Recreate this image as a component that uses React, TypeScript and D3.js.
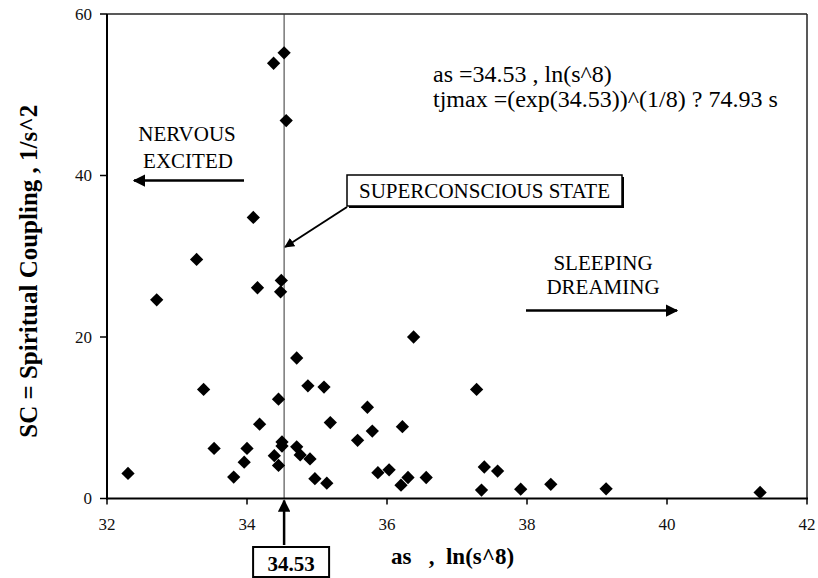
import React from "react";
import * as d3 from "d3";

// as = ln(s^8) for each observation
const asValues = [
  32.3, 32.71, 33.28, 33.38, 33.53, 33.81, 33.96, 34.0, 34.09, 34.15, 34.18, 34.38,
  34.39, 34.45, 34.45, 34.48, 34.49, 34.5, 34.5, 34.53, 34.56, 34.71, 34.71, 34.76,
  34.87, 34.9, 34.97, 35.1, 35.14, 35.19, 35.58, 35.72, 35.79, 35.87, 36.03, 36.2,
  36.22, 36.3, 36.38, 36.56, 37.28, 37.35, 37.39, 37.58, 37.91, 38.34, 39.13, 41.33,
];
// SC = spiritual coupling, 1/s^2
const scValues = [
  3.1, 24.6, 29.6, 13.5, 6.2, 2.65, 4.5, 6.2, 34.8, 26.1, 9.2, 53.9,
  5.3, 4.1, 12.3, 25.6, 27.0, 7.0, 6.5, 55.2, 46.8, 17.4, 6.4, 5.4,
  13.95, 4.9, 2.45, 13.8, 1.9, 9.4, 7.2, 11.3, 8.35, 3.2, 3.55, 1.65,
  8.9, 2.6, 20.0, 2.6, 13.5, 1.05, 3.9, 3.4, 1.15, 1.75, 1.2, 0.75,
];
const xTicks = [32, 34, 36, 38, 40, 42];
const yTicks = [0, 20, 40, 60];
const peakAs = 34.53;

const W = 818;
const H = 578;
const M = { left: 107, right: 11, top: 14, bottom: 79.5 };
const serif = "'Liberation Serif', 'Times New Roman', 'DejaVu Serif', serif";

export default function App() {
  const x = d3.scaleLinear().domain([32, 42]).range([M.left, W - M.right]);
  const y = d3.scaleLinear().domain([0, 60]).range([H - M.bottom, M.top]);
  const diamond = d3.symbol(d3.symbolSquare, 88)() as string;
  const x0 = x(32), x1 = x(42), y0 = y(0), y1 = y(60);
  const xp = x(peakAs);

  return (
    <svg
      width={W}
      height={H}
      style={{ position: "absolute", left: 0, top: 0, background: "#fff", fontFamily: serif }}
    >
      <defs>
        <marker id="head" viewBox="0 0 10 10" refX="9" refY="5" markerWidth="5" markerHeight="5" orient="auto-start-reverse" markerUnits="strokeWidth">
          <path d="M0,0 L10,5 L0,10 z" fill="#000" />
        </marker>
      </defs>
      <rect width={W} height={H} fill="#fff" />

      {/* plot frame */}
      <line x1={x0} x2={x1} y1={y1} y2={y1} stroke="#222" strokeWidth={1.5} />
      <line x1={x1} x2={x1} y1={y1} y2={y0} stroke="#222" strokeWidth={1.5} />

      {/* vertical marker at the peak */}
      <line x1={xp} x2={xp} y1={y1} y2={y0} stroke="#333" strokeWidth={1} />

      {/* points */}
      {asValues.map((a, i) => (
        <path
          key={i}
          d={diamond}
          transform={`translate(${x(a)},${y(scValues[i])}) rotate(45)`}
          fill="#000"
        />
      ))}

      {/* axes */}
      <line x1={x0} x2={x0} y1={y1} y2={y0 + 1} stroke="#000" strokeWidth={2} />
      <line x1={x0 - 1} x2={x1 + 1} y1={y0} y2={y0} stroke="#000" strokeWidth={2.2} />
      {yTicks.map((t) => (
        <g key={t}>
          <line x1={x0 - 7} x2={x0} y1={y(t)} y2={y(t)} stroke="#000" strokeWidth={1.5} />
          <text x={x0 - 15} y={y(t)} dy="0.35em" textAnchor="end" fontSize={17} fill="#111">
            {t}
          </text>
        </g>
      ))}
      {xTicks.map((t) => (
        <g key={t}>
          <line x1={x(t)} x2={x(t)} y1={y0} y2={y0 + 6} stroke="#000" strokeWidth={1.5} />
          <text x={x(t)} y={y0 + 31} textAnchor="middle" fontSize={17} fill="#111">
            {t}
          </text>
        </g>
      ))}

      {/* axis titles */}
      <text
        transform={`translate(37,${(y0 + y1) / 2 + 15}) rotate(-90)`}
        textAnchor="middle"
        fontSize={25}
        fontWeight="bold"
      >
        SC = Spiritual Coupling , 1/s^2
      </text>
      <text x={391} y={564} fontSize={23} fontWeight="bold" style={{ whiteSpace: "pre" }}>
        {"as   ,  ln(s^8)"}
      </text>

      {/* formula */}
      <text x={433} y={82} fontSize={24}>as =34.53 , ln(s^8)</text>
      <text x={433} y={107} fontSize={24}>tjmax =(exp(34.53))^(1/8) ? 74.93 s</text>

      {/* region labels */}
      <text x={187} y={141} textAnchor="middle" fontSize={21}>NERVOUS</text>
      <text x={188} y={168} textAnchor="middle" fontSize={21}>EXCITED</text>
      <line x1={244} x2={134} y1={180.5} y2={180.5} stroke="#000" strokeWidth={2.5} markerEnd="url(#head)" />

      <text x={603} y={269.5} textAnchor="middle" fontSize={21}>SLEEPING</text>
      <text x={603} y={293.5} textAnchor="middle" fontSize={21}>DREAMING</text>
      <line x1={526} x2={677} y1={310.5} y2={310.5} stroke="#000" strokeWidth={2.5} markerEnd="url(#head)" />

      {/* superconscious callout */}
      <rect x={349} y={177} width={275} height={31} fill="#000" />
      <rect x={347} y={175} width={275} height={31} fill="#fff" stroke="#000" strokeWidth={1.5} />
      <text x={484.5} y={197.5} textAnchor="middle" fontSize={21}>SUPERCONSCIOUS STATE</text>
      <line x1={347} x2={xp + 1} y1={207} y2={247} stroke="#000" strokeWidth={2} markerEnd="url(#head)" />

      {/* peak value callout */}
      <line x1={xp} x2={xp} y1={545} y2={y0 + 2} stroke="#000" strokeWidth={2.5} markerEnd="url(#head)" />
      <rect x={xp - 31} y={547} width={76} height={30} fill="#fff" stroke="#000" strokeWidth={2} />
      <text x={xp + 7} y={571} textAnchor="middle" fontSize={21} fontWeight="bold">34.53</text>
    </svg>
  );
}
